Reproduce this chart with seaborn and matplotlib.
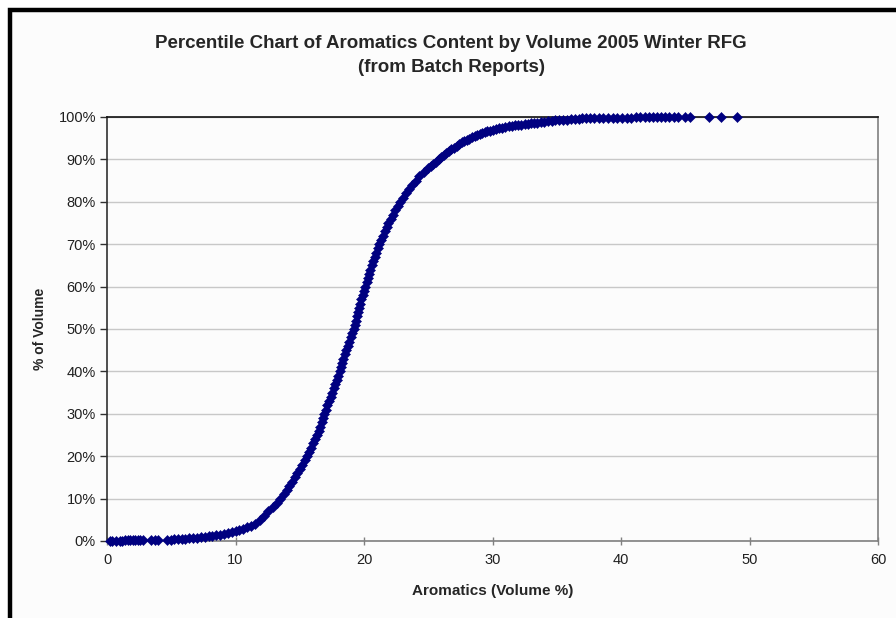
import matplotlib
matplotlib.use("Agg")
import matplotlib.pyplot as plt
from matplotlib.patches import Rectangle
from matplotlib.ticker import FuncFormatter
import pandas as pd
import seaborn as sns

# aromatics content (volume %) of each point
aromatics = [
    0.2, 0.4, 0.7, 1.0, 1.2, 1.4, 1.6, 1.8, 2.0, 2.2, 2.4, 2.6, 2.8,
    3.4, 3.7, 4.0, 4.7, 5.0, 5.2, 5.5, 5.8, 6.1, 6.4, 6.7, 7.0, 7.3, 7.6,
    7.9, 8.2, 8.5, 8.8, 9.1, 9.4, 9.7, 10.0, 10.3, 10.6, 10.9, 11.2, 11.5,
    11.9, 12.2, 12.55, 12.9, 13.2, 13.5, 13.75, 14.0, 14.2, 14.4, 14.6, 14.8,
    15.0, 15.2, 15.4, 15.6, 15.75, 15.9, 16.05, 16.2, 16.35, 16.5, 16.6, 16.7,
    16.8, 16.9, 17.03, 17.15, 17.27, 17.4, 17.52, 17.63, 17.75, 17.87, 17.98,
    18.1, 18.2, 18.3, 18.4, 18.5, 18.6, 18.72, 18.84, 18.96, 19.08, 19.2,
    19.28, 19.36, 19.44, 19.52, 19.6, 19.7, 19.8, 19.9, 20.0, 20.1, 20.2,
    20.3, 20.4, 20.5, 20.6, 20.72, 20.84, 20.96, 21.08, 21.2, 21.34, 21.48,
    21.62, 21.76, 21.9, 22.07, 22.25, 22.43, 22.61, 22.8, 23.03, 23.26, 23.5,
    23.77, 24.03, 24.3, 24.65,
    25.0, 25.2, 25.4, 25.6, 25.8, 26.0, 26.2, 26.4, 26.6, 26.8, 27.0, 27.2,
    27.4, 27.6, 27.8, 28.0, 28.2, 28.4, 28.6, 28.8, 29.0, 29.2, 29.4, 29.6,
    29.8, 30.0, 30.25, 30.5, 30.75, 31.0, 31.25, 31.5, 31.75, 32.0, 32.25,
    32.5, 32.75, 33.0, 33.25, 33.5, 33.75, 34.0, 34.3, 34.6, 34.9, 35.2,
    35.5, 35.8, 36.1, 36.4, 36.7, 37.0, 37.3, 37.6, 37.9,
    38.3, 38.6, 39.0, 39.4, 39.7, 40.1, 40.5, 40.8, 41.2, 41.5, 41.9, 42.2,
    42.5, 42.8, 43.1, 43.4, 43.7, 44.1, 44.4, 45.0, 45.4, 46.85, 47.75, 49.05,
]

# cumulative share of volume (%) for each point
pct_volume = [
    0.05, 0.07, 0.09, 0.1, 0.11, 0.12, 0.13, 0.14, 0.15, 0.16, 0.17, 0.18, 0.19,
    0.22, 0.24, 0.26, 0.32, 0.35, 0.4, 0.45, 0.5, 0.56, 0.63, 0.72, 0.82, 0.92, 1.02,
    1.12, 1.24, 1.36, 1.5, 1.65, 1.85, 2.05, 2.3, 2.55, 2.85, 3.2, 3.6, 4.1,
    5, 6, 7, 8, 9, 10, 11, 12, 13, 14, 15, 16,
    17, 18, 19, 20, 21, 22, 23, 24, 25, 26, 27, 28,
    29, 30, 31, 32, 33, 34, 35, 36, 37, 38, 39,
    40, 41, 42, 43, 44, 45, 46, 47, 48, 49, 50,
    51, 52, 53, 54, 55, 56, 57, 58, 59, 60, 61,
    62, 63, 64, 65, 66, 67, 68, 69, 70, 71, 72,
    73, 74, 75, 76, 77, 78, 79, 80, 81, 82, 83,
    84, 85, 86, 87,
    88.0, 88.5, 89.0, 89.5, 90.0, 90.5, 91.0, 91.5, 92.0, 92.4, 92.8, 93.2,
    93.6, 94.0, 94.3, 94.6, 94.9, 95.2, 95.45, 95.7, 95.95, 96.2, 96.4, 96.6,
    96.8, 97.0, 97.2, 97.35, 97.5, 97.65, 97.8, 97.9, 98.0, 98.1, 98.2,
    98.3, 98.4, 98.5, 98.6, 98.7, 98.8, 98.9, 99.0, 99.1, 99.2, 99.3,
    99.35, 99.4, 99.5, 99.55, 99.6, 99.65, 99.7, 99.72, 99.75,
    99.78, 99.8, 99.82, 99.84, 99.85, 99.86, 99.87, 99.88, 99.89, 99.9, 99.91, 99.92,
    99.93, 99.94, 99.95, 99.96, 99.97, 99.97, 99.98, 99.98, 99.99, 99.99, 100.0, 100.0,
]

df = pd.DataFrame({"aromatics": aromatics, "pct": pct_volume})

sns.set_style("white")
plt.rcParams["font.family"] = ["Liberation Sans", "DejaVu Sans"]

fig = plt.figure(figsize=(8.96, 6.18), dpi=100, facecolor="white")
ax = fig.add_axes([107 / 896, 1 - 541 / 618, (878 - 107) / 896, (541 - 117) / 618])
ax.set_facecolor("#fcfcfc")

# outer frame like the Excel chart area (left and top edges visible)
fig.patches.append(Rectangle((10 / 896, -0.05), 1.2, 1.05 - 10 / 618,
                             transform=fig.transFigure, facecolor="#fcfcfc",
                             edgecolor="black", linewidth=3.2, zorder=-5))

sns.scatterplot(data=df, x="aromatics", y="pct", ax=ax, marker="D", s=26,
                color="#000080", edgecolor="#000080", linewidth=0.4,
                legend=False, zorder=3, clip_on=False)

ax.set_xlim(0, 60)
ax.set_ylim(0, 100)
ax.set_xticks(range(0, 61, 10))
ax.set_yticks(range(0, 101, 10))
ax.yaxis.set_major_formatter(FuncFormatter(lambda v, p: f"{int(v)}%"))
ax.grid(axis="y", color="#c8c8c8", linewidth=1.0)
ax.grid(axis="x", visible=False)
ax.set_axisbelow(True)

for side, col in [("left", "#303030"), ("bottom", "#808080"),
                  ("right", "#808080"), ("top", "#101010")]:
    ax.spines[side].set_visible(True)
    ax.spines[side].set_color(col)
    ax.spines[side].set_linewidth(1.2)

ax.tick_params(axis="y", direction="out", length=5, width=1, color="#303030",
               labelsize=10.5, labelcolor="#202020", pad=3, left=True)
ax.tick_params(axis="x", direction="inout", length=6, width=1, color="#808080",
               labelsize=10.5, labelcolor="#202020", pad=6, bottom=True)

ax.set_xlabel("Aromatics (Volume %)", fontsize=11, fontweight="bold", labelpad=12)
ax.set_ylabel("% of Volume", fontsize=10, fontweight="bold", labelpad=8)

fig.text(451 / 896, 1 - 44 / 618,
         "Percentile Chart of Aromatics Content by Volume 2005 Winter RFG",
         ha="center", va="center", fontsize=13.5, fontweight="bold")
fig.text(451 / 896, 1 - 68 / 618, "(from Batch Reports)",
         ha="center", va="center", fontsize=13.5, fontweight="bold")

fig.savefig("out.png", dpi=100, facecolor="white")
